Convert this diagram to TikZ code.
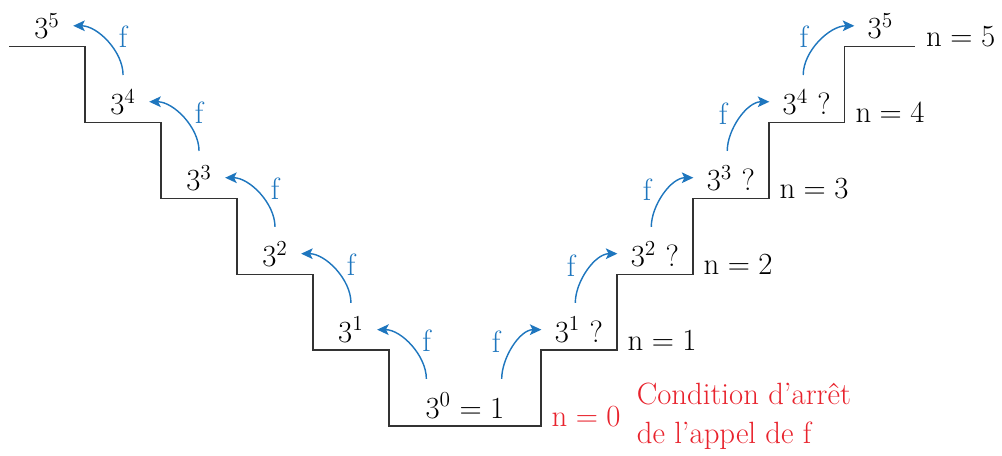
\documentclass[tikz,border=0pt]{standalone}
\usepackage{amsmath}
\usetikzlibrary{arrows.meta,positioning}
\definecolor{callblue}{RGB}{30,118,190}
\definecolor{stopred}{RGB}{232,34,44}

\tikzset{
  stair/.style={line width=0.8pt, black!80},
  power/.style={above=1pt},
  callarrow/.style={line width=0.8pt, callblue,
    -{Stealth[length=6.5pt,width=6pt,inset=1.5pt]},
    shorten <=4.5pt, shorten >=4pt},
  flabel/.style={callblue, pos=0.6},
  nlabel/.style={anchor=base west, xshift=2.5pt},
}

\begin{document}
\begin{tikzpicture}[x=1.5cm, y=1.5cm, font=\fontsize{17.28}{22}\selectfont]
  \useasboundingbox (-5.12,-0.38) rectangle (8.07,5.61);

  % Staircase, going down on the left and up on the right
  \draw[stair] (-5,5) -- (-4,5) -- (-4,4) -- (-3,4) -- (-3,3) -- (-2,3)
    -- (-2,2) -- (-1,2) -- (-1,1) -- (0,1) -- (0,0) -- (2,0)
    -- (2,1) -- (3,1) -- (3,2) -- (4,2) -- (4,3) -- (5,3)
    -- (5,4) -- (6,4) -- (6,5) -- (6.93,5);

  % Powers on the way down
  \node[power] (p5) at (-4.5,5) {$3^5$};
  \node[power] (p4) at (-3.5,4) {$3^4$};
  \node[power] (p3) at (-2.5,3) {$3^3$};
  \node[power] (p2) at (-1.5,2) {$3^2$};
  \node[power] (p1) at (-0.5,1) {$3^1$};
  \node[power] (p0) at (1,0) {$3^0 = 1$};

  % Powers on the way up
  \node[power] (q1) at (2.5,1) {$3^1$ ?};
  \node[power] (q2) at (3.5,2) {$3^2$ ?};
  \node[power] (q3) at (4.5,3) {$3^3$ ?};
  \node[power] (q4) at (5.5,4) {$3^4$ ?};
  \node[power] (q5) at (6.47,5) {$3^5$};

  % Calls of f, left side
  \draw[callarrow] ([xshift=4pt]p0.north west) to[out=90, in=0]
    node[flabel, right=7pt] (fa1) {f} (p1.east);
  \draw[callarrow] (p1.north) to[out=90, in=0]
    node[flabel, right=7pt] (fa2) {f} (p2.east);
  \draw[callarrow] (p2.north) to[out=90, in=0]
    node[flabel, right=7pt] (fa3) {f} (p3.east);
  \draw[callarrow] (p3.north) to[out=90, in=0]
    node[flabel, right=7pt] (fa4) {f} (p4.east);
  \draw[callarrow] (p4.north) to[out=90, in=0]
    node[flabel, right=7pt] (fa5) {f} (p5.east);

  % Calls of f, right side
  \draw[callarrow] ([xshift=-5pt]p0.north east) to[out=90, in=180]
    node[flabel, left=7pt] (fb1) {f} (q1.west);
  \draw[callarrow] ([xshift=-2pt]q1.north) to[out=90, in=180]
    node[flabel, left=7pt] (fb2) {f} (q2.west);
  \draw[callarrow] ([xshift=-2pt]q2.north) to[out=90, in=180]
    node[flabel, left=7pt] (fb3) {f} (q3.west);
  \draw[callarrow] ([xshift=-2pt]q3.north) to[out=90, in=180]
    node[flabel, left=7pt] (fb4) {f} (q4.west);
  \draw[callarrow] ([xshift=-2pt]q4.north) to[out=90, in=180]
    node[flabel, left=7pt] (fb5) {f} (q5.west);

  % Values of n
  \node[nlabel, stopred] (n0) at (2,0) {$\mathrm{n} = 0$};
  \node[nlabel] (n1) at (3,1) {$\mathrm{n} = 1$};
  \node[nlabel] (n2) at (4,2) {$\mathrm{n} = 2$};
  \node[nlabel] (n3) at (5,3) {$\mathrm{n} = 3$};
  \node[nlabel] (n4) at (6,4) {$\mathrm{n} = 4$};
  \node[nlabel] (n5) at (6.93,5) {$\mathrm{n} = 5$};

  % Stop condition
  \node[stopred, align=left, right=2pt of n0] (stop)
    {Condition d'arrêt\\de l'appel de f};
\end{tikzpicture}
\end{document}
